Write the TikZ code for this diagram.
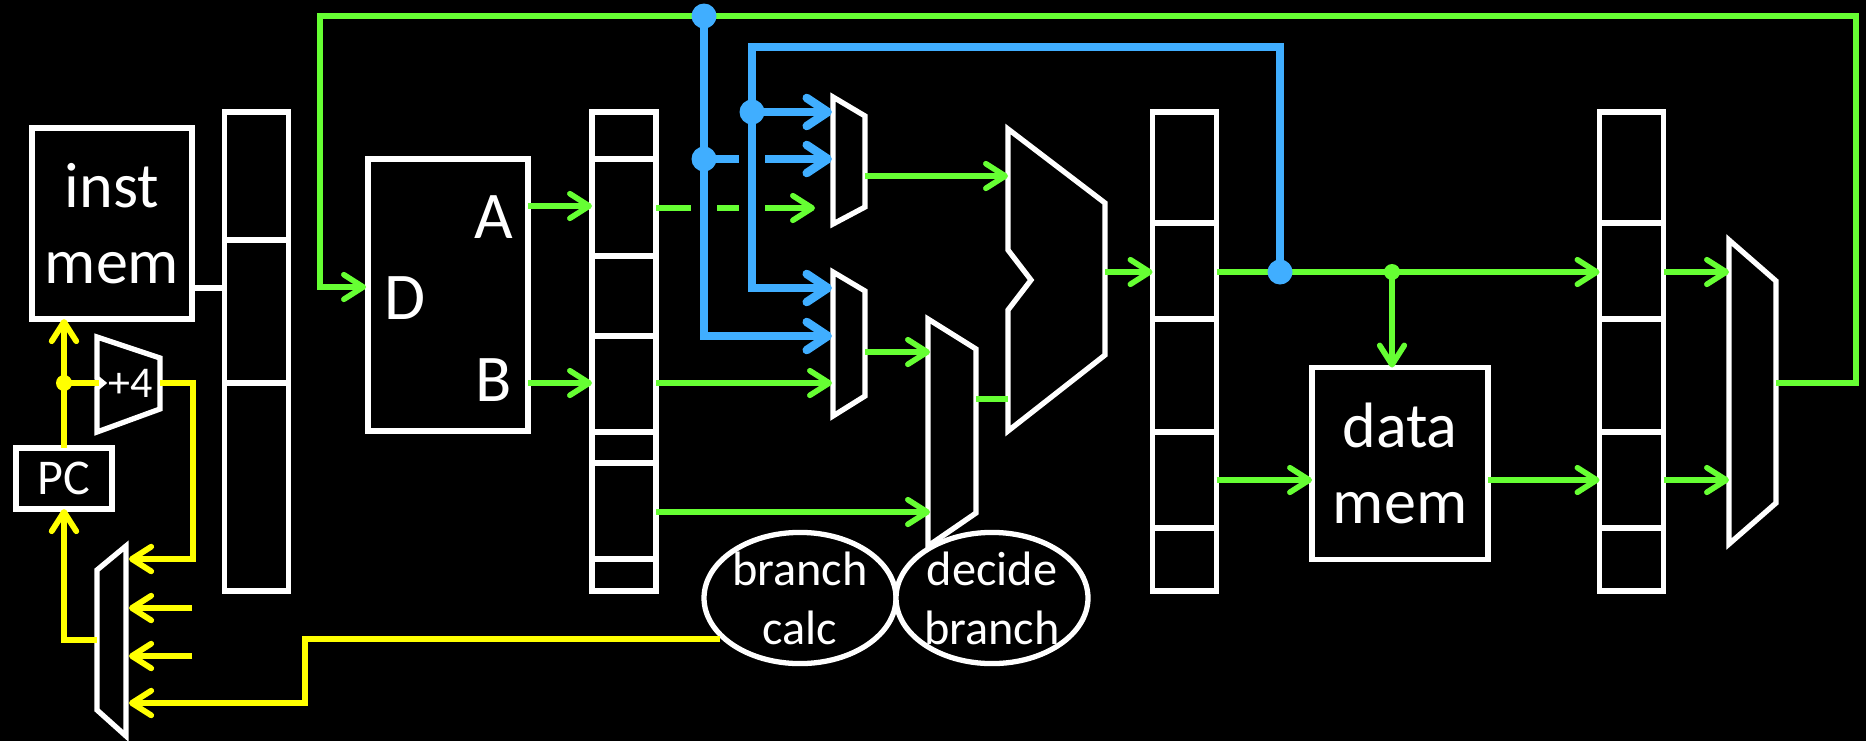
\documentclass[tikz,border=0pt]{standalone}
\usepackage{fontspec}
\setmainfont{Carlito}
\usetikzlibrary{arrows.meta,shapes.geometric}
\definecolor{wiregreen}{HTML}{66FF33}
\definecolor{wireblue}{HTML}{40AEFF}
\definecolor{wireyellow}{HTML}{FFFF00}
\begin{document}
\begin{tikzpicture}[x=0.02cm,y=-0.02cm]
        \tikzset{block/.style = {draw=white, line width=3pt, text=white, fill=black, inner sep=0pt, outer sep=0pt, align=center}}
        \tikzset{reg/.style = {block, minimum width=1.28cm, minimum height=9.58cm}}
        \tikzset{part/.style = {draw=white, line width=3pt, line join=miter}}
        \tikzset{divider/.style = {draw=white, line width=3pt}}
        \tikzset{bubble/.style = {block, ellipse, minimum width=3.84cm, minimum height=2.52cm, font=\fontsize{27.5}{33.5}\selectfont}}
        \tikzset{bigtext/.style = {font=\fontsize{36.5}{43}\selectfont}}
        \tikzset{porttext/.style = {text=white, font=\fontsize{38}{40}\selectfont}}
        \tikzset{greenwire/.style = {draw=wiregreen, line width=3.2pt}}
        \tikzset{greenarrow/.style = {greenwire, -{Straight Barb[length=11pt,width=14pt,round]}}}
        \tikzset{yellowwire/.style = {draw=wireyellow, line width=3.3pt}}
        \tikzset{yellowarrow/.style = {yellowwire, -{Straight Barb[length=11pt,width=14pt,round]}}}
        \tikzset{bluewire/.style = {draw=wireblue, line width=4.8pt}}
        \tikzset{bluearrow/.style = {bluewire, -{Straight Barb[length=12pt,width=16pt,round]}}}

        \fill[black] (0,0) rectangle (1866,741);
        \useasboundingbox (0,0) rectangle (1866,741);

        % pipeline registers
        \node[reg] (ifid) at (256.5,351.5) {};
        \node[reg] (idex) at (624,351.5) {};
        \node[reg] (exmem) at (1184.5,351.5) {};
        \node[reg] (memwb) at (1631.5,351.5) {};

        \draw[divider] (ifid.west |- 0,240) -- (ifid.east |- 0,240);
        \draw[divider] (ifid.west |- 0,383) -- (ifid.east |- 0,383);

        \draw[divider] (idex.west |- 0,159) -- (idex.east |- 0,159);
        \draw[divider] (idex.west |- 0,256) -- (idex.east |- 0,256);
        \draw[divider] (idex.west |- 0,336) -- (idex.east |- 0,336);
        \draw[divider] (idex.west |- 0,432) -- (idex.east |- 0,432);
        \draw[divider] (idex.west |- 0,463) -- (idex.east |- 0,463);
        \draw[divider] (idex.west |- 0,559) -- (idex.east |- 0,559);

        \draw[divider] (exmem.west |- 0,223) -- (exmem.east |- 0,223);
        \draw[divider] (exmem.west |- 0,319) -- (exmem.east |- 0,319);
        \draw[divider] (exmem.west |- 0,432) -- (exmem.east |- 0,432);
        \draw[divider] (exmem.west |- 0,528) -- (exmem.east |- 0,528);

        \draw[divider] (memwb.west |- 0,223) -- (memwb.east |- 0,223);
        \draw[divider] (memwb.west |- 0,319) -- (memwb.east |- 0,319);
        \draw[divider] (memwb.west |- 0,432) -- (memwb.east |- 0,432);
        \draw[divider] (memwb.west |- 0,528) -- (memwb.east |- 0,528);

        % big blocks
        \node[block, bigtext, minimum width=3.2cm, minimum height=3.82cm] (instmem) at (112,223.5) {inst\\mem};
        \node[block, minimum width=1.92cm, minimum height=1.22cm, font=\fontsize{28.5}{30}\selectfont] (pc) at (64,478.5) {PC};
        \node[block, minimum width=3.2cm, minimum height=5.44cm] (regfile) at (448,295) {};
        \node[block, bigtext, minimum width=3.52cm, minimum height=3.84cm] (datamem) at (1400,463.5) {data\\mem};
        \node[porttext] (porta) at (494,217) {A};
        \node[porttext] (portb) at (494,380) {B};
        \node[porttext] (portd) at (405,298) {D};

        % adder and muxes
        \draw[part] (97,337) -- (160,358) -- (160,409) -- (97,432) -- (97,388) -- (103,383) -- (97,378) -- cycle;
        \node[text=white, font=\fontsize{25}{27}\selectfont] (plusfour) at (131,383) {+4};
        \draw[part] (97,570) -- (126,546) -- (126,736) -- (97,710) -- cycle;
        \draw[part] (833,97) -- (865,116) -- (865,207) -- (833,224) -- cycle;
        \draw[part] (833,272) -- (865,291) -- (865,396) -- (833,416) -- cycle;
        \draw[part] (928,319) -- (976,349) -- (976,513) -- (928,546) -- cycle;
        \draw[part] (1008,129) -- (1105,203) -- (1105,355) -- (1008,431) -- (1008,310) -- (1031,280) -- (1008,250) -- cycle;
        \draw[part] (1729,240) -- (1776,281) -- (1776,503) -- (1729,544) -- cycle;

        % branch bubbles
        \node[bubble] (branchcalc) at (800,598) {branch\\calc};
        \node[bubble] (decidebranch) at (992,598) {decide\\branch};

        % connection points
        \coordinate (pcfork) at (64,383);
        \coordinate (adderin) at (99,383);
        \coordinate (adderout) at (160,383);
        \coordinate (turnfour) at (193,383);
        \coordinate (turnfourb) at (193,559);
        \coordinate (muxpcin1) at (129,559);
        \coordinate (muxpcin2) at (129,608);
        \coordinate (muxpcin3) at (129,656);
        \coordinate (muxpcin4) at (129,703);
        \coordinate (stub2) at (192,608);
        \coordinate (stub3) at (192,656);
        \coordinate (muxpcout) at (97,640);
        \coordinate (turnpc) at (64,640);
        \coordinate (calcout) at (720,639);
        \coordinate (turncalc) at (305,639);
        \coordinate (turncalcb) at (305,703);

        \coordinate (wbout) at (1776,383);
        \coordinate (wbturn) at (1856,383);
        \coordinate (wbtop) at (1856,16);
        \coordinate (wbleft) at (320,16);
        \coordinate (wbdown) at (320,287);
        \coordinate (regd) at (366,287);
        \coordinate (topdot) at (704,16);
        \coordinate (middot) at (704,159);
        \coordinate (blueleft) at (704,336);
        \coordinate (fwdtop) at (752,47);
        \coordinate (fwdright) at (1280,47);
        \coordinate (fwddot) at (1280,272);
        \coordinate (fwdmid) at (752,112);
        \coordinate (fwdlow) at (752,288);
        \coordinate (mux1a) at (832,112);
        \coordinate (mux1b) at (832,159);
        \coordinate (mux2a) at (832,288);
        \coordinate (mux2b) at (832,336);
        \coordinate (mux2c) at (832,383);
        \coordinate (gapb1) at (739,159);
        \coordinate (gapb2) at (765,159);
        \coordinate (aoutb1) at (691,208);
        \coordinate (aoutb2) at (717,208);
        \coordinate (aoutb3) at (739,208);
        \coordinate (aoutb4) at (765,208);
        \coordinate (aouttip) at (815,208);

        % wires
        \draw[divider] (instmem.east |- 0,288) -- (ifid.west |- 0,288);

        \draw[yellowarrow] (pc.north) -- (instmem.south -| pc.north);
        \draw[yellowwire] (pcfork) -- (adderin);
        \draw[yellowarrow] (adderout) -- (turnfour) -- (turnfourb) -- (muxpcin1);
        \draw[yellowarrow] (stub2) -- (muxpcin2);
        \draw[yellowarrow] (stub3) -- (muxpcin3);
        \draw[yellowarrow] (calcout) -- (turncalc) -- (turncalcb) -- (muxpcin4);
        \draw[yellowarrow] (muxpcout) -- (turnpc) -- (pc.south);
        \fill[wireyellow] (pcfork) circle (8);

        \draw[greenarrow] (wbout) -- (wbturn) -- (wbtop) -- (wbleft) -- (wbdown) -- (regd);
        \draw[greenarrow] (regfile.east |- 0,206) -- (idex.west |- 0,206);
        \draw[greenarrow] (regfile.east |- 0,383) -- (idex.west |- 0,383);

        \draw[greenwire] (idex.east |- 0,208) -- (aoutb1);
        \draw[greenwire] (aoutb2) -- (aoutb3);
        \draw[greenarrow] (aoutb4) -- (aouttip);
        \draw[greenarrow] (idex.east |- 0,383) -- (mux2c);
        \draw[greenarrow] (idex.east |- 0,512) -- (930,512);
        \draw[greenarrow] (865,176) -- (1008,176);
        \draw[greenarrow] (865,352) -- (930,352);
        \draw[greenwire] (976,399) -- (1008,399);
        \draw[greenarrow] (1105,272) -- (exmem.west |- 0,272);

        \draw[greenarrow] (exmem.east |- 0,272) -- (memwb.west |- 0,272);
        \draw[greenarrow] (1392,272) -- (datamem.north -| 1392,0);
        \fill[wiregreen] (1392,272) circle (8);
        \draw[greenarrow] (exmem.east |- 0,480) -- (datamem.west |- 0,480);
        \draw[greenarrow] (datamem.east |- 0,480) -- (memwb.west |- 0,480);
        \draw[greenarrow] (memwb.east |- 0,272) -- (1729,272);
        \draw[greenarrow] (memwb.east |- 0,480) -- (1729,480);

        \draw[bluearrow] (topdot) -- (blueleft) -- (mux2b);
        \draw[bluearrow] (fwddot) -- (fwdright) -- (fwdtop) -- (fwdlow) -- (mux2a);
        \draw[bluearrow] (fwdmid) -- (mux1a);
        \draw[bluewire] (middot) -- (gapb1);
        \draw[bluearrow] (gapb2) -- (mux1b);
        \fill[wireblue] (topdot) circle (12.5);
        \fill[wireblue] (middot) circle (12.5);
        \fill[wireblue] (fwdmid) circle (12.5);
        \fill[wireblue] (fwddot) circle (12.5);
\end{tikzpicture}
\end{document}
